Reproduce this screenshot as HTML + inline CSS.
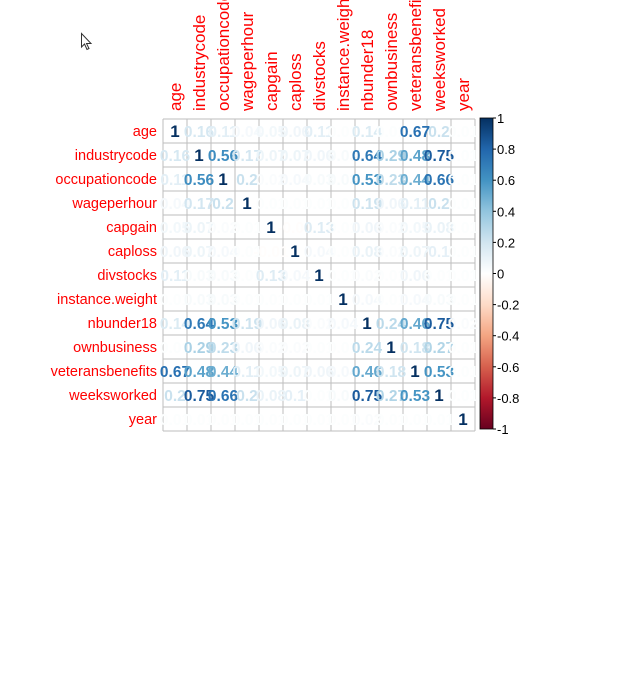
<!DOCTYPE html>
<html><head><meta charset="utf-8">
<style>
html,body{margin:0;padding:0;background:#fff;width:632px;height:681px;overflow:hidden}
svg{display:block}
text{font-family:"Liberation Sans",Arial,sans-serif}
</style></head>
<body>
<svg id="chart" width="632" height="681" viewBox="0 0 632 681">
  <g transform="translate(81,33)">
    <path d="M0.5,0.5 L0.5,14 L3.5,11 L6,16.5 L8,15.5 L5.5,10.5 L10,10.5 Z" fill="#fff" stroke="#333" stroke-width="1"/>
  </g>
</svg>
<script>
const labels = ["age","industrycode","occupationcode","wageperhour","capgain","caploss","divstocks","instance.weight","nbunder18","ownbusiness","veteransbenefits","weeksworked","year"];
const row0 = [1,0.16,0.11,0.04,0.05,0.06,0.11,0.01,0.14,0.01,0.67,0.2,0.01];
const row1 = [0.16,1,0.56,0.17,0.07,0.07,0.06,0.03,0.64,0.29,0.48,0.75,0.01];
const row2 = [0.11,0.56,1,0.2,0.02,0.04,0.03,0.03,0.53,0.23,0.44,0.66,0.01];
const row3 = [0.04,0.17,0.2,1,0.01,0.01,0.01,0.01,0.19,0.06,0.11,0.2,0.01];
const row4 = [0.05,0.07,0.02,0.01,1,-0.01,0.13,0.01,0.06,0.02,0.05,0.08,0.01];
const row5 = [0.06,0.07,0.04,0.01,-0.01,1,0.04,0.01,0.08,0.02,0.07,0.1,0.01];
const row6 = [0.11,0.03,0.03,0.01,0.13,0.04,1,0.01,0.02,0.01,0.06,0.01,0.01];
const row7 = [0.01,0.03,0.03,0.01,0.01,0.01,0.01,1,0.04,0.01,0.04,0.03,0.01];
const row8 = [0.14,0.64,0.53,0.19,0.06,0.08,0.02,0.04,1,0.24,0.46,0.75,0.02];
const row9 = [0.01,0.29,0.23,0.06,0.02,0.02,0.01,0.01,0.24,1,0.18,0.27,0.01];
const row10 = [0.67,0.48,0.44,0.11,0.05,0.07,0.06,0.04,0.46,0.18,1,0.53,0.01];
const row11 = [0.2,0.75,0.66,0.2,0.08,0.1,0.01,0.03,0.75,0.27,0.53,1,0.01];
const row12 = [0.01,0.01,0.01,0.01,0.01,0.01,0.01,0.01,0.02,0.01,0.01,0.01,1];
const matrix = [row0,row1,row2,row3,row4,row5,row6,row7,row8,row9,row10,row11,row12];
const legendTicks = [1,0.8,0.6,0.4,0.2,0,-0.2,-0.4,-0.6,-0.8,-1];

const palette = ["#67001F","#B2182B","#D6604D","#F4A582","#FDDBC7","#FFFFFF","#D1E5F0","#92C5DE","#4393C3","#2166AC","#053061"];
function hex(c){return [1,3,5].map(i=>parseInt(c.substr(i,2),16));}
function colorFor(v){
  v=Math.max(-1,Math.min(1,v));
  const p=(v+1)/2*(palette.length-1);
  const i=Math.min(palette.length-2,Math.floor(p)); const t=p-i;
  const a=hex(palette[i]), b=hex(palette[i+1]);
  return "rgb("+a.map((x,k)=>Math.round(x+(b[k]-x)*t)).join(",")+")";
}
const NS="http://www.w3.org/2000/svg";
const svg=document.getElementById("chart");
function mk(tag,attrs,parent){const e=document.createElementNS(NS,tag);for(const k in attrs)e.setAttribute(k,attrs[k]);(parent||svg).appendChild(e);return e;}

const gx=163, gy=119, cell=24, n=labels.length;
const xPos=j=>gx+j*cell;
const yPos=i=>gy+i*cell;

const grid=mk("g",{});


for(let k=0;k<=n;k++){
  mk("line",{x1:xPos(k),y1:gy,x2:xPos(k),y2:yPos(n),stroke:"#bebebe","stroke-width":1},grid);
  mk("line",{x1:gx,y1:yPos(k),x2:xPos(n),y2:yPos(k),stroke:"#bebebe","stroke-width":1},grid);
}
for(let i=0;i<n;i++){
  const t=mk("text",{x:157,y:yPos(i)+cell/2+5,"text-anchor":"end","font-size":14.5,fill:"#ff0000"});
  t.textContent=labels[i];
  
  
}
for(let j=0;j<n;j++){
  const cx=xPos(j)+cell/2+6, by=111;
  const t=mk("text",{x:cx,y:by,transform:"rotate(-90 "+cx+" "+by+")","font-size":17,fill:"#ff0000"});
  t.textContent=labels[j];
  
  
}
const cells=mk("g",{});


for(let i=0;i<n;i++)for(let j=0;j<n;j++){
  const v=matrix[i][j];
  const s=(v===1)?"1":String(Math.round(v*100)/100);
  const cv=v===1?1:Math.min(1,v*1.12);
  const t=mk("text",{x:xPos(j)+cell/2,y:yPos(i)+cell/2+6,"text-anchor":"middle","font-size":(v===1?17:15.5),"font-weight":"bold",fill:colorFor(cv)},cells);
  t.textContent=s;
  
  
}
const defs=mk("defs",{});
const lg=mk("linearGradient",{id:"cb",x1:0,y1:0,x2:0,y2:1},defs);
palette.slice().reverse().forEach((c,k)=>mk("stop",{offset:(k/(palette.length-1)),"stop-color":c},lg));
const cbTop=118, cbBot=429, cbX=480, cbW=13;
const cb=mk("rect",{x:cbX,y:cbTop,width:cbW,height:cbBot-cbTop,fill:"url(#cb)",stroke:"#000","stroke-width":0.8});


const cbScale=v=>cbTop+(1-v)/2*(cbBot-cbTop);
legendTicks.forEach(v=>{
  const y=cbScale(v);
  mk("line",{x1:cbX+cbW,y1:y,x2:cbX+cbW+3,y2:y,stroke:"#000","stroke-width":1});
  const t=mk("text",{x:497,y:y+5,"font-size":13,fill:"#000"});
  t.textContent=String(v);
  
  
});
</script>
</body></html>
